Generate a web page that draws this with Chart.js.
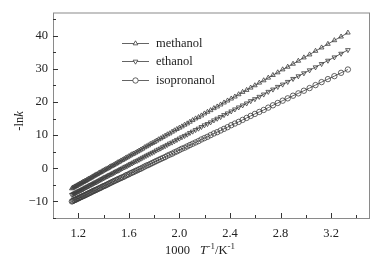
<!DOCTYPE html>
<html>
<head>
<meta charset="utf-8">
<script src="https://cdn.jsdelivr.net/npm/chart.js@4.4.0/dist/chart.umd.min.js"></script>
<style>
  html, body { margin: 0; padding: 0; background: #fff; }
  #wrap { width: 386px; height: 260px; }
</style>
</head>
<body>
<div id="wrap"><canvas id="c" width="386" height="260"></canvas></div>
<script>
// 1000/T (K^-1), T = 870 K down to 300 K
const invT = [
  1.149,1.156,1.163,1.170,1.176,1.183,1.190,1.198,1.205,1.212,
  1.220,1.227,1.235,1.242,1.250,1.258,1.266,1.274,1.282,1.290,
  1.299,1.307,1.316,1.325,1.333,1.342,1.351,1.361,1.370,1.379,
  1.389,1.399,1.408,1.418,1.429,1.439,1.449,1.460,1.471,1.481,
  1.493,1.504,1.515,1.527,1.538,1.550,1.563,1.575,1.587,1.600,
  1.613,1.626,1.639,1.653,1.667,1.681,1.695,1.709,1.724,1.739,
  1.754,1.770,1.786,1.802,1.818,1.835,1.852,1.869,1.887,1.905,
  1.923,1.942,1.961,1.980,2.000,2.020,2.041,2.062,2.083,2.105,
  2.128,2.151,2.174,2.198,2.222,2.247,2.273,2.299,2.326,2.353,
  2.381,2.410,2.439,2.469,2.500,2.532,2.564,2.597,2.632,2.667,
  2.703,2.740,2.778,2.817,2.857,2.899,2.941,2.985,3.030,3.077,
  3.125,3.175,3.226,3.279,3.333
];

// -ln k
const methanol = [
  -6.1,-5.9,-5.8,-5.6,-5.5,-5.4,-5.2,-5.0,-4.9,-4.7,
  -4.6,-4.4,-4.2,-4.1,-3.9,-3.8,-3.6,-3.4,-3.2,-3.1,
  -2.9,-2.7,-2.5,-2.3,-2.1,-1.9,-1.8,-1.5,-1.3,-1.2,
  -0.9,-0.7,-0.5,-0.3,-0.1,0.1,0.4,0.6,0.8,1.0,
  1.3,1.5,1.8,2.0,2.3,2.5,2.8,3.1,3.3,3.6,
  3.9,4.2,4.4,4.7,5.0,5.3,5.6,5.9,6.3,6.6,
  6.9,7.3,7.6,7.9,8.3,8.7,9.0,9.4,9.8,10.2,
  10.5,11.0,11.4,11.8,12.2,12.6,13.1,13.5,14.0,14.5,
  15.0,15.4,15.9,16.5,17.0,17.5,18.1,18.6,19.2,19.8,
  20.4,21.0,21.6,22.3,23.0,23.6,24.3,25.0,25.8,26.5,
  27.3,28.1,28.9,29.8,30.6,31.5,32.4,33.4,34.3,35.4,
  36.4,37.5,38.6,39.7,40.9
];
const ethanol = [
  -8.0,-7.9,-7.7,-7.6,-7.5,-7.3,-7.2,-7.0,-6.9,-6.8,
  -6.6,-6.5,-6.3,-6.2,-6.0,-5.8,-5.7,-5.5,-5.4,-5.2,
  -5.0,-4.9,-4.7,-4.5,-4.3,-4.2,-4.0,-3.8,-3.6,-3.4,
  -3.2,-3.0,-2.8,-2.6,-2.4,-2.2,-2.0,-1.8,-1.6,-1.4,
  -1.1,-0.9,-0.7,-0.5,-0.2,0.0,0.3,0.5,0.7,1.0,
  1.3,1.5,1.8,2.1,2.3,2.6,2.9,3.2,3.5,3.8,
  4.1,4.4,4.7,5.0,5.4,5.7,6.0,6.4,6.7,7.1,
  7.5,7.8,8.2,8.6,9.0,9.4,9.8,10.2,10.7,11.1,
  11.6,12.0,12.5,13.0,13.4,13.9,14.5,15.0,15.5,16.1,
  16.6,17.2,17.8,18.4,19.0,19.6,20.3,20.9,21.6,22.3,
  23.1,23.8,24.6,25.3,26.1,27.0,27.8,28.7,29.6,30.5,
  31.5,32.5,33.5,34.6,35.7
];
const isopropanol = [
  -10.0,-9.9,-9.7,-9.6,-9.5,-9.4,-9.2,-9.1,-9.0,-8.8,
  -8.7,-8.6,-8.4,-8.3,-8.2,-8.0,-7.9,-7.7,-7.6,-7.4,
  -7.3,-7.1,-6.9,-6.8,-6.6,-6.5,-6.3,-6.1,-6.0,-5.8,
  -5.6,-5.4,-5.3,-5.1,-4.9,-4.7,-4.5,-4.3,-4.1,-3.9,
  -3.7,-3.5,-3.3,-3.1,-2.9,-2.7,-2.5,-2.2,-2.0,-1.8,
  -1.5,-1.3,-1.1,-0.8,-0.6,-0.3,-0.1,0.2,0.5,0.8,
  1.0,1.3,1.6,1.9,2.2,2.5,2.8,3.1,3.4,3.8,
  4.1,4.4,4.8,5.1,5.5,5.9,6.2,6.6,7.0,7.4,
  7.8,8.2,8.7,9.1,9.5,10.0,10.5,10.9,11.4,11.9,
  12.4,13.0,13.5,14.0,14.6,15.2,15.8,16.4,17.0,17.6,
  18.3,19.0,19.7,20.4,21.1,21.9,22.6,23.4,24.2,25.1,
  26.0,26.9,27.8,28.8,29.8
];

const seriesNames = ['methanol', 'ethanol', 'isopronanol'];
const xTicks = [1.2,1.4,1.6,1.8,2.0,2.2,2.4,2.6,2.8,3.0,3.2,3.4];
const yTicks = [-15,-10,-5,0,5,10,15,20,25,30,35,40,45];

const ink = '#3c3c3c';
const serif = '"Liberation Serif", "Times New Roman", serif';

function pts(ys) {
  return invT.map((x, i) => ({x: x, y: ys[i]}));
}

function mkSet(label, ys, style, rot) {
  return {
    label: label,
    data: pts(ys),
    borderColor: ink,
    borderWidth: 0.8,
    pointStyle: style,
    pointRotation: rot,
    pointRadius: 2.7,
    pointBorderWidth: 0.8,
    pointBorderColor: ink,
    pointBackgroundColor: 'rgba(255,255,255,0)',
    fill: false,
    tension: 0
  };
}

const isMajorX = v => Math.round(v * 10) % 4 === 0;
const isMajorY = v => Math.round(v) % 10 === 0;

// frame, inward ticks, axis titles and legend
const decor = {
  id: 'decor',
  afterDatasetsDraw(chart) {
    const ctx = chart.ctx;
    const a = chart.chartArea;
    const xs = chart.scales.x, ys = chart.scales.y;
    ctx.save();
    ctx.strokeStyle = '#8a8a8a';
    ctx.lineWidth = 1;
    ctx.strokeRect(a.left + 0.5, a.top + 0.5, a.right - a.left, a.bottom - a.top);

    ctx.strokeStyle = '#333';
    ctx.beginPath();
    xTicks.forEach(v => {
      const px = Math.round(xs.getPixelForValue(v)) + 0.5;
      const len = isMajorX(v) ? 5 : 3;
      ctx.moveTo(px, a.bottom);
      ctx.lineTo(px, a.bottom - len);
    });
    yTicks.forEach(v => {
      const py = Math.round(ys.getPixelForValue(v)) + 0.5;
      const len = isMajorY(v) ? 5 : 3;
      ctx.moveTo(a.left, py);
      ctx.lineTo(a.left + len, py);
    });
    ctx.stroke();

    // x title: 1000  T^-1/K^-1
    ctx.fillStyle = '#222';
    ctx.textBaseline = 'alphabetic';
    ctx.textAlign = 'left';
    const by = 254;
    ctx.font = '12.5px ' + serif;
    ctx.fillText('1000', 165, by);
    let x = 200;
    const parts = [
      ['T', 'italic 12.5px ' + serif, 0],
      ['-1', '9px ' + serif, -5],
      ['/K', '12.5px ' + serif, 0],
      ['-1', '9px ' + serif, -5]
    ];
    parts.forEach(p => {
      ctx.font = p[1];
      ctx.fillText(p[0], x, by + p[2]);
      x += ctx.measureText(p[0]).width + (p[0] === 'T' ? 0.5 : 0);
    });

    // y title: -ln k
    ctx.save();
    ctx.translate(23, 121);
    ctx.rotate(-Math.PI / 2);
    ctx.font = 'italic 12.5px ' + serif;
    const wk = ctx.measureText('k').width;
    ctx.font = '12.5px ' + serif;
    const w1 = ctx.measureText('-ln').width;
    const sx = -(w1 + wk) / 2;
    ctx.fillText('-ln', sx, 0);
    ctx.font = 'italic 12.5px ' + serif;
    ctx.fillText('k', sx + w1, 0);
    ctx.restore();

    // legend
    const rows = [43, 61, 80];
    chart.data.datasets.forEach((ds, i) => {
      const ly = rows[i] + 0.5;
      ctx.strokeStyle = ink;
      ctx.lineWidth = 0.8;
      ctx.beginPath();
      ctx.moveTo(122, ly);
      ctx.lineTo(149, ly);
      ctx.stroke();
      ctx.fillStyle = '#fff';
      Chart.helpers.drawPoint(ctx, {
        pointStyle: ds.pointStyle,
        rotation: ds.pointRotation,
        radius: 2.7,
        borderWidth: 0.8
      }, 135.5, ly);
      ctx.fillStyle = '#222';
      ctx.font = '12.5px ' + serif;
      ctx.textBaseline = 'middle';
      ctx.fillText(ds.label, 156, ly);
    });
    ctx.restore();
  }
};

new Chart(document.getElementById('c'), {
  type: 'line',
  data: {
    datasets: [
      mkSet(seriesNames[0], methanol, 'triangle', 0),
      mkSet(seriesNames[1], ethanol, 'triangle', 180),
      mkSet(seriesNames[2], isopropanol, 'circle', 0)
    ]
  },
  options: {
    responsive: false,
    devicePixelRatio: 1,
    animation: false,
    layout: { padding: { left: 0, top: 12, right: 17, bottom: 0 } },
    plugins: { legend: { display: false }, tooltip: { enabled: false } },
    scales: {
      x: {
        type: 'linear',
        min: 1.0,
        max: 3.5,
        afterBuildTicks: s => { s.ticks = xTicks.map(v => ({value: v})); },
        afterFit: s => { s.height = 42; },
        grid: { display: false, drawTicks: false },
        border: { display: false },
        ticks: {
          padding: 8,
          autoSkip: false,
          maxRotation: 0,
          color: '#222',
          font: { family: serif, size: 12.5 },
          callback: v => isMajorX(v) ? v.toFixed(1) : ''
        }
      },
      y: {
        type: 'linear',
        min: -15,
        max: 47,
        afterBuildTicks: s => { s.ticks = yTicks.map(v => ({value: v})); },
        afterFit: s => { s.width = 53; },
        grid: { display: false, drawTicks: false },
        border: { display: false },
        ticks: {
          padding: 5,
          autoSkip: false,
          color: '#222',
          font: { family: serif, size: 12.5 },
          callback: v => isMajorY(v) ? (v < 0 ? '\u2212' + Math.abs(v) : String(v)) : ''
        }
      }
    }
  },
  plugins: [decor]
});
</script>
</body>
</html>
